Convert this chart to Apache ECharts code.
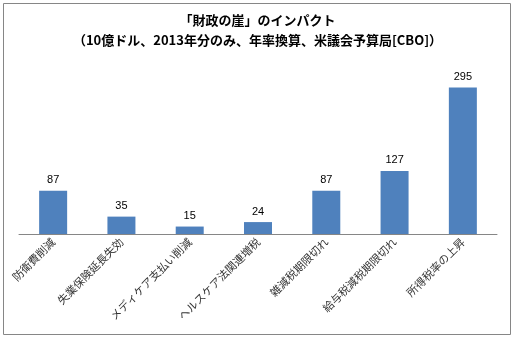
<!DOCTYPE html>
<html>
<head>
<meta charset="utf-8">
<script src="https://cdn.jsdelivr.net/npm/echarts@6/dist/echarts.min.js"></script>
<style>
html,body{margin:0;padding:0;background:#fff;}
#chart{width:515px;height:341px;}
</style>
</head>
<body>
<div id="chart"></div>
<script>
// 「財政の崖」の項目別インパクト（10億ドル）
const categories = ['防衛費削減', '失業保険延長失効', 'メディケア支払い削減', 'ヘルスケア法関連増税', '雑減税期限切れ', '給与税減税期限切れ', '所得税率の上昇'];
const values = [87, 35, 15, 24, 87, 127, 295];
const titleLines = ['「財政の崖」のインパクト', '（10億ドル、2013年分のみ、年率換算、米議会予算局[CBO]）'];

const chart = echarts.init(document.getElementById('chart'), null, {renderer: 'canvas'});
chart.setOption({
  animation: false,
  backgroundColor: '#ffffff',
  title: {
    text: titleLines.join('\n'),
    left: 'center',
    top: 5,
    textStyle: {
      fontFamily: '"Noto Sans CJK JP", sans-serif',
      fontWeight: 'bold',
      fontSize: 13,
      lineHeight: 20,
      color: '#000'
    }
  },
  graphic: [{
    type: 'rect',
    shape: {x: 3.5, y: 3.5, width: 507, height: 331},
    style: {fill: 'none', stroke: '#868686', lineWidth: 1},
    z: -1
  }],
  grid: {left: 19, right: 18, top: 85, bottom: 107, containLabel: false},
  xAxis: {
    type: 'category',
    data: categories,
    axisLine: {lineStyle: {color: '#868686', width: 1}},
    axisTick: {show: false},
    axisLabel: {
      interval: 0,
      rotate: 45,
      margin: 6,
      fontFamily: '"Noto Sans CJK JP", sans-serif',
      fontSize: 11,
      color: '#333'
    }
  },
  yAxis: {
    type: 'value',
    min: 0,
    max: 300,
    show: false,
    splitLine: {show: false}
  },
  series: [{
    type: 'bar',
    data: values,
    barWidth: 28,
    itemStyle: {color: '#4f81bd'},
    label: {
      show: true,
      position: 'top',
      distance: 5,
      fontFamily: '"Liberation Sans", Arial, sans-serif',
      fontSize: 11,
      color: '#000'
    }
  }]
});
</script>
</body>
</html>
